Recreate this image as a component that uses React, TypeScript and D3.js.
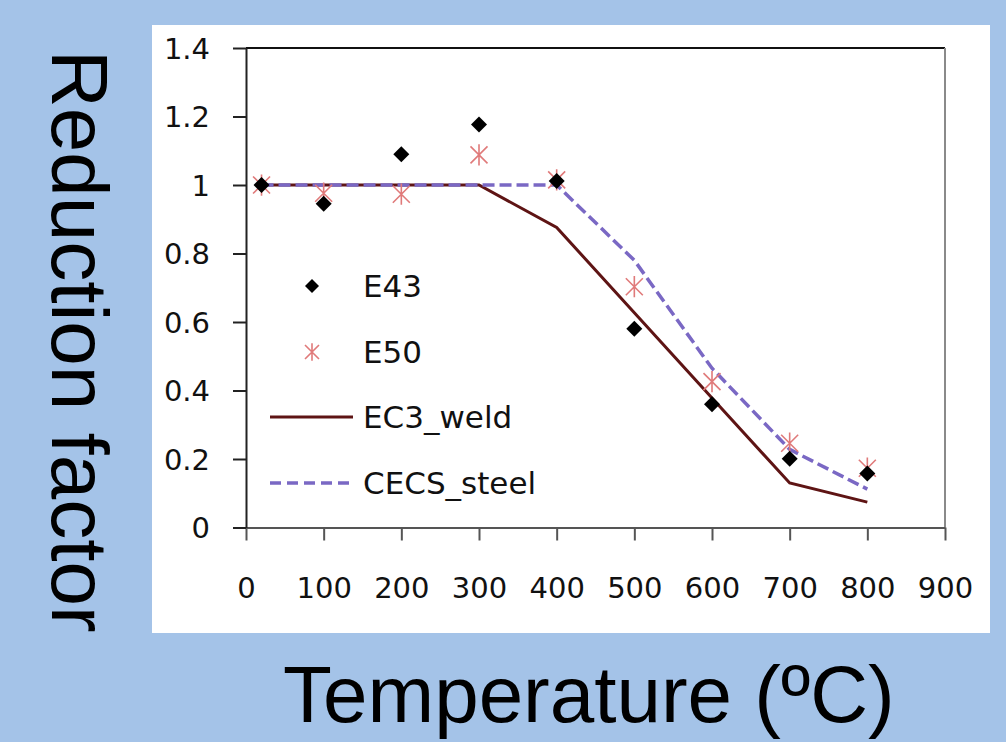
import { useRef, useEffect } from "react";
import * as d3 from "d3";

// temperatures (ºC) of the test points
const temps = [20, 100, 200, 300, 400, 500, 600, 700, 800];
const e43 = [1.0, 0.945, 1.09, 1.177, 1.012, 0.58, 0.36, 0.201, 0.158];
const e50 = [1.0, 0.976, 0.973, 1.088, 1.015, 0.703, 0.426, 0.246, 0.173];
const ec3Weld = [1.0, 1.0, 1.0, 1.0, 0.876, 0.627, 0.378, 0.13, 0.074];
const cecsSteel = [1.0, 1.0, 1.0, 1.0, 1.0, 0.78, 0.465, 0.228, 0.112];

const xTicks = [0, 100, 200, 300, 400, 500, 600, 700, 800, 900];
const yTicks = [0, 0.2, 0.4, 0.6, 0.8, 1, 1.2, 1.4];

const legendItems = ["E43", "E50", "EC3_weld", "CECS_steel"];

const COLORS = {
  bg: "#a4c3e8",
  panel: "#ffffff",
  e43: "#000000",
  e50: "#e07a7a",
  ec3: "#5e1414",
  cecs: "#7a68c4",
  axis: "#222",
  frame: "#8a8a8a",
};

const W = 1006;
const H = 742;

const diamond = (r: number) => `M0,${-r}L${r},0L0,${r}L${-r},0Z`;
const asterisk = (r: number) =>
  `M${-r},${-r}L${r},${r}M${-r},${r}L${r},${-r}M0,${-r * 1.25}L0,${r * 1.25}`;

export default function App() {
  const svgRef = useRef<SVGSVGElement>(null);

  useEffect(() => {
    if (!svgRef.current) return;
    const svg = d3.select(svgRef.current);
    svg.selectAll("*").remove();

    const plot = { left: 246, right: 945, top: 48, bottom: 527.5 };

    svg.append("rect").attr("width", W).attr("height", H).attr("fill", COLORS.bg);
    svg
      .append("rect")
      .attr("x", 152)
      .attr("y", 25)
      .attr("width", 838)
      .attr("height", 608)
      .attr("fill", COLORS.panel);

    const x = d3.scaleLinear().domain([0, 900]).range([plot.left, plot.right]);
    const y = d3.scaleLinear().domain([0, 1.4]).range([plot.bottom, plot.top]);

    // Frame (top / right)
    svg
      .append("line")
      .attr("x1", plot.left)
      .attr("x2", plot.right)
      .attr("y1", plot.top)
      .attr("y2", plot.top)
      .attr("stroke", "#111")
      .attr("stroke-width", 2);
    svg
      .append("line")
      .attr("x1", plot.right)
      .attr("x2", plot.right)
      .attr("y1", plot.top)
      .attr("y2", plot.bottom)
      .attr("stroke", COLORS.frame)
      .attr("stroke-width", 2);

    // Axes
    const styleAxis = (s: d3.Selection<SVGGElement, unknown, null, undefined>, color: string) => {
      s.select(".domain").attr("stroke", color).attr("stroke-width", 2);
      s.selectAll(".tick line").attr("stroke", color).attr("stroke-width", 2);
      s.selectAll(".tick text")
        .attr("fill", "#111")
        .attr("font-family", "'DejaVu Sans', sans-serif")
        .attr("font-size", "29px");
    };

    svg
      .append("g")
      .attr("transform", `translate(0,${plot.bottom})`)
      .call(
        d3
          .axisBottom(x)
          .tickValues(xTicks)
          .tickFormat((d) => `${d}`)
          .tickSize(13)
          .tickSizeOuter(0)
      )
      .call((s) => styleAxis(s, "#555"))
      .call((s) => s.selectAll(".tick text").attr("dy", "0").attr("y", 70));

    svg
      .append("g")
      .attr("transform", `translate(${plot.left},0)`)
      .call(
        d3
          .axisLeft(y)
          .tickValues(yTicks)
          .tickFormat((d) => `${d}`)
          .tickSize(13)
          .tickSizeOuter(0)
      )
      .call((s) => styleAxis(s, COLORS.axis))
      .call((s) => s.selectAll(".tick text").attr("x", -36).attr("dy", "0.36em"));

    const pts = (vals: number[]) => temps.map((t, i) => [t, vals[i]] as [number, number]);
    const line = d3
      .line<[number, number]>()
      .x((d) => x(d[0]))
      .y((d) => y(d[1]));

    svg
      .append("path")
      .datum(pts(ec3Weld))
      .attr("fill", "none")
      .attr("stroke", COLORS.ec3)
      .attr("stroke-width", 3)
      .attr("d", line);

    svg
      .append("path")
      .datum(pts(cecsSteel))
      .attr("fill", "none")
      .attr("stroke", COLORS.cecs)
      .attr("stroke-width", 3.5)
      .attr("stroke-dasharray", "12,5")
      .attr("d", line);

    // E50 asterisks
    svg
      .append("g")
      .selectAll("path")
      .data(pts(e50))
      .enter()
      .append("path")
      .attr("transform", (d) => `translate(${x(d[0])},${y(d[1])})`)
      .attr("d", asterisk(8.5))
      .attr("fill", "none")
      .attr("stroke", COLORS.e50)
      .attr("stroke-width", 1.6);

    // E43 diamonds
    svg
      .append("g")
      .selectAll("path")
      .data(pts(e43))
      .enter()
      .append("path")
      .attr("transform", (d) => `translate(${x(d[0])},${y(d[1])})`)
      .attr("d", diamond(8))
      .attr("fill", COLORS.e43);

    // Legend
    const lg = svg.append("g");
    const rowY = [286, 352, 417, 483];
    const mx = 312;
    lg.append("path")
      .attr("transform", `translate(${mx},${rowY[0]})`)
      .attr("d", diamond(7))
      .attr("fill", COLORS.e43);
    lg.append("path")
      .attr("transform", `translate(${mx},${rowY[1]})`)
      .attr("d", asterisk(7))
      .attr("fill", "none")
      .attr("stroke", COLORS.e50)
      .attr("stroke-width", 1.6);
    lg.append("line")
      .attr("x1", 270)
      .attr("x2", 353)
      .attr("y1", rowY[2])
      .attr("y2", rowY[2])
      .attr("stroke", COLORS.ec3)
      .attr("stroke-width", 3);
    lg.append("line")
      .attr("x1", 270)
      .attr("x2", 353)
      .attr("y1", rowY[3])
      .attr("y2", rowY[3])
      .attr("stroke", COLORS.cecs)
      .attr("stroke-width", 3.5)
      .attr("stroke-dasharray", "11,6");
    lg.selectAll("text")
      .data(legendItems)
      .enter()
      .append("text")
      .attr("x", 363)
      .attr("y", (_, i) => rowY[i])
      .attr("dy", "0.36em")
      .attr("font-family", "'DejaVu Sans', sans-serif")
      .attr("font-size", "31px")
      .attr("fill", "#111")
      .text((d) => d);

    // Axis titles
    svg
      .append("text")
      .attr("transform", "translate(52,50) rotate(90)")
      .attr("font-family", "'Liberation Sans', Arial, sans-serif")
      .attr("font-size", "80px")
      .attr("fill", "#000")
      .text("Reduction factor");

    svg
      .append("text")
      .attr("x", 283)
      .attr("y", 722)
      .attr("font-family", "'Liberation Sans', Arial, sans-serif")
      .attr("font-size", "80px")
      .attr("fill", "#000")
      .text("Temperature (ºC)");
  }, []);

  return (
    <svg
      ref={svgRef}
      width={W}
      height={H}
      style={{ position: "absolute", left: 0, top: 0, display: "block" }}
    />
  );
}
